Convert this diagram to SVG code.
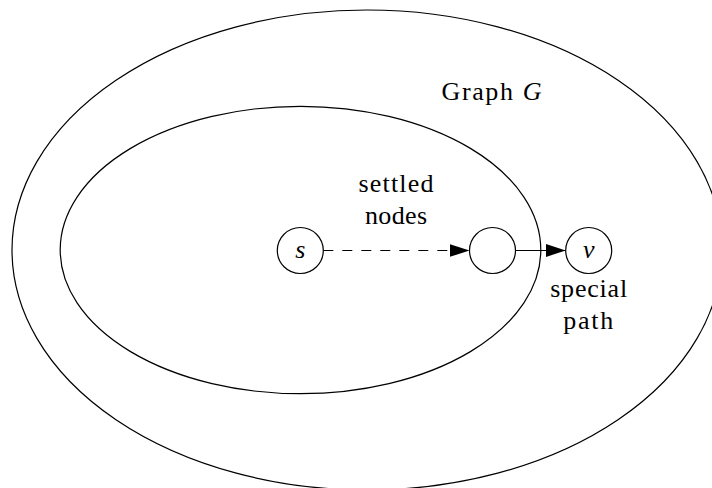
<svg xmlns="http://www.w3.org/2000/svg" width="712" height="488" viewBox="0 0 712 488">
<style>
.ln{fill:none;stroke:#000;stroke-width:1.2}
.nd{fill:#fff;stroke:#000;stroke-width:1.2}
.i{font-style:italic}
</style>
<defs>
<marker id="ah" markerUnits="userSpaceOnUse" markerWidth="21" markerHeight="13" refX="20" refY="6.5" orient="auto">
<path d="M0,0 L20,6.5 L0,13 z" fill="#000"/>
</marker>
</defs>
<rect width="712" height="488" fill="#fff"/>
<g font-family="Liberation Serif, DejaVu Serif, serif" font-size="26" text-anchor="middle" fill="#000">
<g id="graph-G">
<ellipse class="ln" cx="367" cy="250" rx="355" ry="240"/>
<text x="491.5" y="99.5" textLength="100" lengthAdjust="spacing">Graph <tspan class="i">G</tspan></text>
</g>
<g id="settled">
<ellipse class="ln" cx="300.5" cy="250" rx="240.3" ry="143.7"/>
<text x="396" y="192" textLength="75" lengthAdjust="spacing">settled</text>
<text x="396" y="223.5" textLength="62" lengthAdjust="spacing">nodes</text>
</g>
<g id="connectors">
<line class="ln" x1="323.3" y1="250.5" x2="469.5" y2="250.5" stroke-dasharray="10 9" marker-end="url(#ah)"/>
<line class="ln" x1="515.5" y1="250.5" x2="565.7" y2="250.5" marker-end="url(#ah)"/>
</g>
<g id="node-s">
<circle class="nd" cx="300.3" cy="250.5" r="23"/>
<text class="i" x="300.3" y="257.5">s</text>
</g>
<g id="node-u">
<circle class="nd" cx="492.5" cy="250.5" r="23"/>
</g>
<g id="node-v">
<circle class="nd" cx="588.7" cy="250.5" r="23"/>
<text class="i" x="588.7" y="257.5">v</text>
</g>
<g id="special-path">
<text x="588.7" y="297" textLength="77" lengthAdjust="spacing">special</text>
<text x="588.2" y="328.5" textLength="50" lengthAdjust="spacing">path</text>
</g>
</g>
</svg>
